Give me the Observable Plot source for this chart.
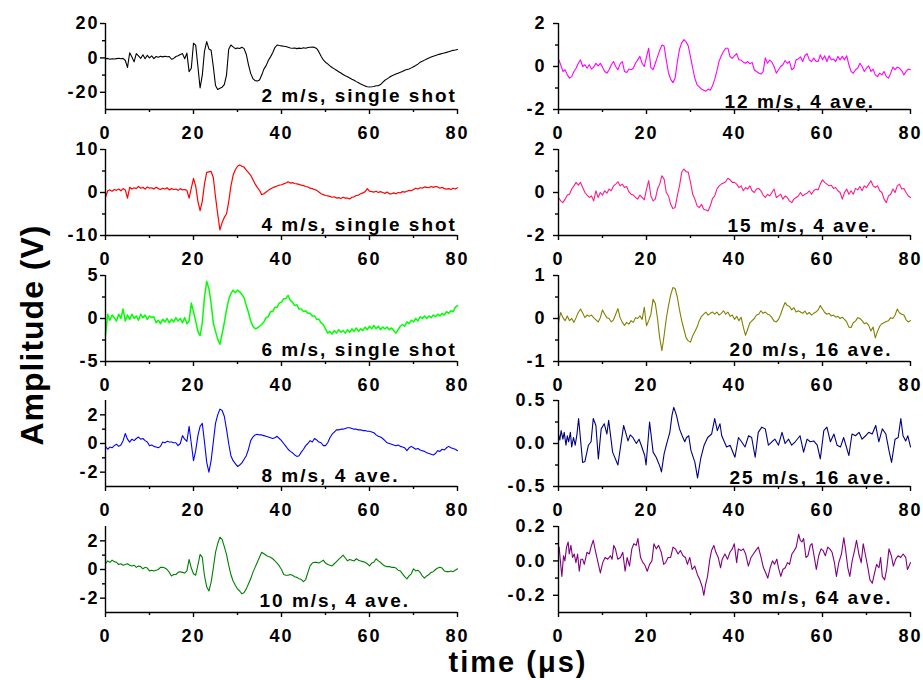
<!DOCTYPE html>
<html>
<head>
<meta charset="utf-8">
<script src="https://cdn.jsdelivr.net/npm/d3@7"></script>
<script src="https://cdn.jsdelivr.net/npm/@observablehq/plot@0.6"></script>
<style>
html,body{margin:0;padding:0;background:#fff;}
#wrap{position:relative;width:923px;height:680px;overflow:hidden;font-family:Arial,"Liberation Sans",Helvetica,sans-serif;color:#000;}
#wrap svg{position:absolute;overflow:visible;}
#wrap svg text{letter-spacing:2px;}
.ylab{position:absolute;left:32px;top:335px;transform:translate(-50%,-50%) rotate(-90deg);font-weight:bold;font-size:32px;line-height:1;white-space:nowrap;letter-spacing:1px;}
.xlab{position:absolute;left:518px;top:648px;transform:translateX(-50%);font-weight:bold;font-size:29px;line-height:1;white-space:nowrap;letter-spacing:2px;}
</style>
</head>
<body>
<div id="wrap">
  <div class="ylab">Amplitude (V)</div>
  <div class="xlab">time (μs)</div>
</div>
<script>
// ---- tick labels ----
const xMajor = [0, 20, 40, 60, 80];
const xMinor = [10, 30, 50, 70];
const yMajor2 = [20, 0, -20],  yMinor2 = [10, -10];
const yMajor4 = [10, 0, -10],  yMinor4 = [5, -5];
const yMajor6 = [5, 0, -5],    yMinor6 = [2.5, -2.5];
const yMajor8 = [2, 0, -2],    yMinor8 = [1, -1];
const yMajor10 = [2, 0, -2],   yMinor10 = [1, -1];
const yMajor12 = [2, 0, -2],   yMinor12 = [1, -1];
const yMajor15 = [2, 0, -2],   yMinor15 = [1, -1];
const yMajor20 = [1, 0, -1],   yMinor20 = [0.5, -0.5];
const yMajor25 = [0.5, 0, -0.5], yMinor25 = [0.25, -0.25];
const yMajor30 = [0.2, 0, -0.2], yMinor30 = [0.1, -0.1];

// ---- series values (V), sampled every 0.5 µs from 0 to 80 µs ----
const v2ms = [
-0.5,-0.3,-0.8,-0.5,-0.6,-0.4,-0.2,-0.5,-0.3,-1.5,
-5.5,3,0.5,-2.3,2.5,1.2,-0.3,1.8,-0.5,1.5,
0,1.2,-0.4,0.8,0.4,1,0.6,1,0.7,0.8,
-0.8,-0.3,0.8,1.2,2,2.5,-0.5,2.8,-8,-6,
8.5,7.4,-5,-17.5,-10,4,9.5,5.2,4.5,-5,
-16,-18.4,-17.6,-17,-15.5,-10,5,7.5,6.4,5.4,
5.8,5.5,6.2,5.4,2,-4,-9,-12,-13.2,-13.4,
-12.8,-10,-6.5,-4.5,-1.5,0.6,3,6,7.5,7.2,
7,6.8,6.6,6.2,5.8,5.6,5.8,5.4,5.7,5.5,
5.9,5.6,6,6.2,6.3,6.1,5.5,3.5,1,-1.2,
-2.5,-3.5,-4.6,-5.6,-6.4,-7.2,-8,-8.8,-9.6,-10.4,
-11,-11.7,-12.4,-13,-13.8,-14.5,-15.2,-15.8,-16.3,-16.8,
-16.9,-16.8,-16.6,-16.2,-16.2,-15.5,-14.2,-13,-12.2,-11.3,
-10.5,-10,-9.4,-8.9,-8.4,-7.9,-7.2,-6.8,-6.4,-5.8,
-5.1,-4.4,-3.6,-2.6,-2,-1.3,-0.6,0,0.5,1,
1.4,1.8,2.2,2.6,2.9,3.2,3.6,4,4.4,4.6,
4.9];
const v4ms = [
-1.1,0.4,0.6,0.3,0.7,0.5,0.8,0.4,0.9,0.6,
-1.3,1.2,0.8,1.1,0.9,1.4,1,1.2,0.8,1.3,
1,1.1,0.8,1.2,0.9,0.7,1,0.8,1.1,0.6,
0.9,0.7,0.8,0.5,0.9,0.6,0.7,0.5,-1.3,1,
3.3,1.5,-2,-4.2,-2,2,4.7,4.8,4.9,3.5,
-1,-5,-8.7,-7,-5.8,-5,-2.2,1.5,4,5.3,
6.1,6.4,6.1,5.9,5.2,4.6,4,3,2,1.2,
0.5,-0.5,-0.3,0.1,0.5,0.8,1.1,1.3,1.5,1.7,
1.8,2,2.2,2.5,2.2,2.3,2.1,2,1.9,1.7,
1.6,1.4,1.3,1,0.9,0.7,0.5,0.1,-0.3,-0.5,
-0.7,-0.8,-0.9,-1.1,-1,-1.3,-1.2,-1.4,-1.1,-1.3,
-1.3,-1.5,-1.1,-1,-0.7,-0.6,-0.3,-0.1,0.2,0.9,
0.3,0.2,0.1,0.3,0,0.2,0,-0.2,0.1,-0.3,
-0.3,-0.1,-0.3,0,-0.1,0.2,0.1,0.3,0.5,0.4,
0.7,1,0.8,1.1,1,1.3,1.2,1.1,1.4,1.2,
1.4,1.3,1,1.2,0.9,0.8,0.9,0.7,1,0.8,
1.1];
const v6ms = [
-1.9,0.5,-0.2,0.4,0.1,-0.3,0.5,0,1.1,-0.3,
0.4,-0.1,0.5,0,0.3,-0.2,0.5,0.1,0.4,-0.1,
0.3,0.1,0.2,-0.5,-0.2,-0.6,-0.1,-0.4,0,-0.5,
-0.1,-0.4,0.1,-0.3,0,-0.5,0.1,-0.6,-0.3,1.8,
0.8,-0.3,-1.5,-2,-0.5,2.5,4.3,3.5,1.8,-0.5,
-1.5,-2.4,-3,-1.8,-0.5,1,2.2,2.9,3.3,3,
3.3,3.1,2.8,2.4,1.5,0.7,-0.3,-0.9,-1.2,-1.1,
-0.9,-0.7,-0.4,0.1,0.2,0.8,0.8,1.3,1.3,1.8,
1.9,2.3,2.3,2.7,2.1,1.9,1.5,1.6,1.1,1.1,
0.8,0.9,0.6,0.6,0.3,0.3,-0.1,-0.1,-0.5,-0.7,
-1.2,-1.7,-1.5,-1.8,-1.4,-1.7,-1.3,-1.6,-1.4,-1.7,
-1.3,-1.6,-1.2,-1.5,-1.1,-1.5,-1.2,-1.4,-1,-1.3,
-0.9,-1.2,-0.8,-1.2,-0.9,-1.3,-1,-1.2,-1,-1.3,
-1.1,-1.4,-1.7,-1.3,-0.9,-0.7,-0.9,-0.4,-0.6,-0.2,
-0.4,0,-0.3,0.2,0,0.3,0,0.3,0.1,0.4,
0.2,0.5,0.3,0.6,0.4,0.8,0.6,0.9,0.8,1.3,
1.5];
const v8ms = [
-0.2,-0.4,-0.25,-0.3,-0.15,-0.05,-0.2,-0.1,0.2,0.7,
0.3,0.1,0.3,0.2,0.35,0.45,0.3,0.35,0.2,0.1,
-0.15,-0.1,-0.2,-0.25,-0.3,-0.2,0.1,0.05,0.15,0.1,
0.1,0.05,0.05,-0.15,0,0.55,0.3,0.15,1.2,0,
-1.2,-0.5,0.55,1.2,1.4,0.1,-1.3,-2,-1.2,0.1,
1.4,2,2.4,2.3,1.9,1,0,-0.85,-1.2,-1.4,
-1.6,-1.5,-1.35,-1.1,-0.85,-0.4,0.2,0.45,0.6,0.65,
0.6,0.6,0.55,0.5,0.45,0.4,0.35,0.4,0.5,0.35,
0.2,0,-0.2,-0.4,-0.55,-0.65,-0.8,-0.9,-0.85,-0.6,
-0.4,-0.15,0,0.2,0.1,0.35,0.25,0.1,0.05,-0.15,
-0.15,0.05,0.4,0.65,0.8,0.95,0.95,1,1,1.05,
1.1,1.1,1.05,1,1,0.95,0.95,0.9,0.9,0.85,
0.85,0.8,0.75,0.6,0.5,0.45,0.35,0.2,0.05,0,
-0.05,-0.1,-0.15,-0.1,-0.2,-0.25,-0.3,-0.5,-0.3,-0.2,
-0.3,-0.4,-0.35,-0.45,-0.5,-0.55,-0.65,-0.7,-0.75,-0.8,
-0.7,-0.5,-0.55,-0.4,-0.45,-0.3,-0.2,-0.3,-0.35,-0.4,
-0.5];
const v10ms = [
0.4,0.6,0.5,0.65,0.55,0.5,0.35,0.4,0.3,0.35,
0.4,0.3,0.25,0.3,0.15,0.25,0.2,0.05,0.15,0.1,
-0.1,-0.05,-0.1,-0.05,0,0.15,0.15,0.1,0,-0.2,
-0.45,-0.35,-0.35,-0.2,-0.15,-0.2,-0.25,-0.1,0.7,0.1,
-0.3,-0.4,0.3,1.05,0.85,-0.45,-1.2,-1.5,-0.9,0.1,
1.2,1.8,2.25,2.1,1.6,1.05,0.3,-0.35,-0.8,-1.1,
-1.35,-1.5,-1.7,-1.6,-1.35,-1,-0.65,-0.2,0.15,0.5,
0.85,1.2,1.1,1,0.9,0.85,0.75,0.6,0.45,0.25,
0,-0.35,-0.4,-0.4,-0.35,-0.4,-0.5,-0.55,-0.65,-0.7,
-0.85,-0.7,-0.2,0.25,0.45,0.5,0.5,0.45,0.55,0.65,
0.45,0.35,0.3,0.25,0.4,0.55,0.7,0.85,1,0.8,
0.6,0.7,0.65,0.6,0.75,0.65,0.6,0.55,0.5,0.4,
0.25,0.45,0.5,0.75,0.6,0.5,0.35,0.25,0.2,0.2,
0.15,0.15,0.1,-0.05,-0.1,-0.3,-0.5,-0.65,-0.45,-0.3,
0.05,-0.1,-0.05,-0.2,-0.45,-0.6,-0.45,-0.35,-0.2,-0.15,
0,0.1,0.15,0.1,-0.1,-0.15,-0.15,-0.1,-0.15,-0.05,
0.05];
const v12ms = [
0.35,0.08,-0.23,-0.15,-0.39,-0.54,-0.47,-0.23,-0.08,0.15,
0.31,0,0.08,-0.08,0.08,-0.12,-0.03,0.15,0.03,0.15,
-0.03,-0.23,-0.31,-0.15,0.08,0.23,0,-0.15,0.12,0.23,
-0.23,-0.28,-0.12,-0.15,-0.08,0.15,0.31,0.47,0.15,0,
0.45,0.85,-0.05,-0.15,0.15,0.45,0.75,1,0.95,0.3,
-0.3,-0.6,-0.75,-0.55,0.2,0.8,1.1,1.25,1.15,0.95,
0.45,-0.08,-0.55,-0.85,-0.95,-1.05,-1.1,-1.15,-1.05,-1.1,
-0.9,-0.6,-0.2,0.25,0.5,0.7,0.85,0.85,0.45,0.38,
0.5,0.6,0.31,0.3,0.2,0.15,0.23,0.12,0.19,-0.15,
-0.23,-0.3,-0.35,-0.25,0.4,0.15,0.3,0.2,0,-0.31,
-0.15,0,0.08,0.28,0.15,0.23,-0.15,-0.08,0.31,0.35,
0.45,0.23,0.5,0.6,0.31,0.23,0.39,0.25,0.23,0.54,
0.31,0.5,0.23,0.5,0.31,0.35,0.23,0.47,0.31,0.47,
0.31,0.5,0.08,-0.23,-0.31,-0.15,-0.08,0.15,0,-0.23,
-0.08,0.03,-0.23,-0.12,-0.39,-0.47,-0.31,-0.39,-0.23,-0.47,
-0.54,-0.31,-0.03,-0.15,-0.03,-0.08,-0.19,-0.39,-0.23,-0.12,
-0.15];
const v15ms = [
-0.23,-0.39,-0.47,-0.31,-0.12,-0.08,0.16,0.31,0.47,0.34,
0.47,0.23,0,-0.12,-0.23,-0.16,-0.39,0.08,-0.23,0,
-0.12,0.08,-0.03,0.16,0.08,0.31,0.39,0.5,0.31,0.39,
0.23,0.28,0.03,-0.08,-0.12,-0.23,-0.31,-0.12,-0.23,-0.34,
0.16,0.55,-0.16,-0.39,-0.31,0.16,0.39,0.78,0.62,0,
-0.16,-0.55,-0.75,-0.7,-0.16,0.31,0.94,1.09,0.97,0.94,
0.47,-0.08,-0.31,-0.62,-0.7,-0.55,-0.78,-0.81,-0.86,-0.62,
-0.28,-0.16,0.16,0.31,0.39,0.44,0.5,0.66,0.59,0.47,
0.47,0.39,0.23,0.31,0.08,0.23,0.16,0.31,0.08,0,
0.16,0.19,0.08,-0.12,-0.23,-0.08,-0.16,0,0.16,-0.23,
-0.16,-0.08,-0.31,-0.16,-0.23,-0.39,-0.47,-0.31,-0.23,-0.16,
0,-0.16,-0.08,-0.03,0.08,-0.08,0.08,0.16,0.12,0.39,
0.59,0.47,0.39,0.31,0.34,0.19,0.23,0.08,0,-0.31,
0,0.16,-0.08,0.08,-0.08,0.19,0.12,0.28,0.08,0.31,
0.23,0.39,0.55,0.31,0.23,0.31,0.08,0,-0.31,-0.47,
-0.16,-0.08,0.16,0,0.31,0.39,0.16,0.19,0,-0.16,
-0.23];
const v20ms = [
-0.09,0.14,0.02,-0.05,0.06,-0.05,0,-0.09,0.02,0.14,
0.22,0.13,0.02,0.08,0.05,0.08,0.02,-0.03,-0.08,0.02,
0.2,0.1,0.02,0,-0.08,-0.03,0.1,0.23,0.02,-0.09,
-0.16,-0.09,-0.13,-0.05,-0.09,0.02,0,0.06,-0.02,0.26,
-0.17,-0.05,0.1,0.45,0.35,0,-0.45,-0.75,-0.4,0,
0.3,0.55,0.72,0.7,0.5,0.2,-0.05,-0.25,-0.45,-0.52,
-0.55,-0.4,-0.3,-0.2,-0.05,0.05,0.1,0.15,0.08,0.12,
0.15,0.1,0.15,0.08,0.12,0.18,0.1,0.15,0.05,0.08,
-0.02,0.05,-0.05,0.03,-0.2,-0.39,-0.25,-0.1,-0.05,0,
0.08,0.1,0.18,0.12,0.15,0.1,0.08,0.02,-0.06,-0.08,
-0.02,0.1,0.25,0.37,0.3,0.28,0.2,0.25,0.15,0.18,
0.15,0.12,0.17,0.1,0.14,0.08,0.12,0.15,0.2,0.3,
0.22,0.14,0.1,0.12,0.06,0.08,0.03,0.05,0,0.03,
-0.02,-0.08,-0.2,-0.21,-0.1,-0.06,0.02,0,-0.05,-0.12,
-0.1,-0.16,-0.29,-0.2,-0.45,-0.3,-0.18,-0.12,-0.1,-0.07,
-0.05,0.02,0,0.08,0.22,0.13,0.1,0.08,-0.03,-0.08,
-0.05];
// irregularly read series: [time µs, amplitude V]
const p25ms = [
[0,0.11],[0.3,0.04],[0.6,0.15],[1,0.05],[1.3,0.13],[1.7,-0.02],[2,0.09],[2.3,0.02],[2.7,0.13],[3,-0.04],[3.4,0.07],[3.8,-0.02],[4.2,0.11],[4.57,0.29],[5.48,-0.22],[6,-0.21],[6.8,-0.02],[7.4,0.02],[7.9,0.29],[8.5,0.21],[9.06,-0.18],[9.7,0.17],[10.4,0.23],[11,0.11],[11.4,0.27],[12.3,-0.1],[13.5,-0.25],[14.8,0.21],[15.8,0.03],[16.3,0.1],[16.9,0.07],[17.7,0],[18.3,0.05],[18.8,-0.02],[19.6,-0.14],[19.9,-0.25],[20.7,0.25],[21.5,-0.1],[22.2,-0.16],[23,-0.26],[23.4,-0.33],[24,-0.12],[24.5,-0.02],[25.3,0.13],[25.8,0.33],[26.2,0.42],[26.8,0.33],[27.5,0.17],[28.1,0.09],[28.7,0.02],[29.1,0.07],[29.6,0.09],[30.1,-0.08],[31,-0.22],[31.6,-0.4],[32.3,-0.18],[33.1,-0.02],[33.9,0.07],[34.8,0.11],[35.5,0.29],[36.1,0.15],[36.7,0.23],[37.1,0.09],[38.2,-0.04],[39,-0.02],[40.1,-0.16],[40.9,0.07],[41.6,0.02],[42.4,-0.04],[43.2,0.09],[43.9,0.07],[44.7,-0.16],[45.4,0.13],[46.2,0.19],[47,0.17],[47.7,-0.02],[48.5,0.02],[49.2,0.05],[50,-0.02],[50.8,0.13],[51.5,0],[52.3,0.05],[53,-0.02],[53.8,0.02],[54.9,0.09],[55.7,-0.1],[56.5,0.05],[57.2,0.02],[58,0.03],[58.8,-0.02],[59.5,-0.18],[60.3,0.15],[61,0.19],[61.8,0.02],[62.6,0.11],[63.3,-0.02],[64.1,-0.04],[64.8,0.07],[66,-0.14],[66.7,0.11],[67.5,0.09],[68.3,0.13],[69,0.05],[69.8,0.09],[70.5,0.13],[71.3,0.11],[72.1,0.21],[72.8,0.02],[73.6,0.17],[74.4,0.11],[75.1,-0.08],[75.7,-0.22],[76.5,0.05],[77.2,0.07],[77.8,0.29],[78.3,0.09],[78.9,0.03],[79.4,0.09],[80,-0.04]
];
const p30ms = [
[0,0.05],[0.15,0.08],[0.53,-0.03],[0.76,-0.09],[1.14,0.03],[1.45,0],[1.83,0.08],[2.2,0.11],[2.44,0.04],[2.82,0.09],[3.2,0.02],[3.58,0.04],[3.96,-0.01],[4.34,0.04],[4.72,-0.06],[5.1,0.01],[5.48,0.01],[5.86,-0.02],[6.47,0.05],[7,0.04],[7.38,0.08],[7.91,0.12],[8.37,0.06],[8.9,0],[9.51,-0.07],[10.05,-0.01],[10.58,0.02],[11.19,0.01],[11.8,0.03],[12.18,0.01],[12.56,0.09],[12.94,0.07],[13.47,0.01],[14.08,0.02],[14.61,0.05],[15.14,-0.06],[15.6,0.02],[16.13,-0.03],[16.67,0.07],[17.12,0.1],[17.66,0.09],[18.04,0.13],[18.65,0.02],[19.18,-0.01],[19.56,-0.02],[20.17,-0.06],[20.7,-0.02],[21.23,0],[21.69,0.1],[22.22,0.07],[22.75,0.09],[23.36,0.05],[23.9,-0.02],[24.35,-0.01],[24.89,0.02],[25.49,0.02],[26.03,0.08],[26.56,0.07],[27.17,0.04],[27.7,0.06],[28.31,0.03],[28.84,0.02],[29.3,-0.02],[29.83,0.02],[30.37,-0.05],[30.97,-0.03],[31.58,-0.08],[32.12,-0.11],[32.65,-0.15],[33.03,-0.2],[33.41,-0.14],[33.87,-0.09],[34.4,0.01],[34.78,0.06],[35.31,0.09],[35.77,0.05],[36.3,0.02],[36.83,-0.04],[37.21,0.01],[37.82,0.04],[38.43,0.01],[38.96,0.05],[39.5,0.07],[39.95,0.1],[40.49,-0.01],[40.87,0.07],[41.48,0.06],[42.01,0.07],[42.54,0.04],[43.15,-0.03],[43.76,0.02],[44.29,0.04],[44.82,0.06],[45.43,0.08],[46.04,0.02],[46.58,-0.04],[47.11,-0.07],[47.56,-0.1],[48.1,-0.04],[48.63,0],[49.09,-0.02],[49.62,0.01],[50,-0.04],[50.53,-0.09],[50.99,-0.05],[51.52,-0.04],[52.05,-0.01],[52.51,-0.02],[53.04,0.04],[53.58,0.06],[54.03,0.08],[54.57,0.155],[54.95,0.12],[55.33,0.11],[55.71,0.13],[56.24,0.02],[56.7,0.03],[57.23,0.09],[57.61,0.1],[58.14,0.02],[58.6,-0.05],[59.13,0.03],[59.67,0.07],[60.12,0.06],[60.65,0.03],[61.19,0.08],[61.64,0.07],[62.18,0.05],[62.71,-0.01],[63.17,-0.09],[63.7,-0.01],[64.31,0.04],[64.84,0.135],[65.22,0.07],[65.75,-0.04],[66.21,-0.09],[66.74,0],[67.28,0.06],[67.73,0.12],[68.26,0.04],[68.8,-0.01],[69.25,0.1],[69.79,0.03],[70.32,-0.04],[70.78,-0.11],[71.31,-0.13],[71.84,-0.07],[72.3,-0.02],[72.83,-0.04],[73.21,0.02],[73.59,-0.09],[74.12,-0.11],[74.58,-0.05],[75.11,0.07],[75.65,0.03],[76.1,-0.03],[76.64,0.01],[77.17,0.03],[77.78,0.02],[78.31,0.04],[78.92,0.02],[79.3,-0.05],[79.68,-0.03],[80,-0.01]
];

// ---- layout (styling only) ----
const PW = 352, PH = 86;
const colLeft = [105, 557.7];
const rowTop = [23.3, 149, 274.6, 400, 525.7];
const ML = 70, MR = 26, MT = 14, MB = 42;
const intFmt = d => String(d);
const decFmt = d => d.toFixed(1);

const gridRows = vals => vals.map((v, i) => ({t: i * 0.5, v}));
const pairRows = pairs => pairs.map(([t, v]) => ({t, v}));

const panels = [
  {label: "2 m/s, single shot", data: gridRows(v2ms), color: "#000000", sw: 1.1, dom: [-30, 20], major: yMajor2, minor: yMinor2, fmt: intFmt, col: 0, row: 0, lx: 156, ly: 7.5},
  {label: "4 m/s, single shot", data: gridRows(v4ms), color: "#ff0000", sw: 1.2, dom: [-10, 10], major: yMajor4, minor: yMinor4, fmt: intFmt, col: 0, row: 1, lx: 156, ly: 5},
  {label: "6 m/s, single shot", data: gridRows(v6ms), color: "#00ff00", sw: 1.5, dom: [-5, 5], major: yMajor6, minor: yMinor6, fmt: intFmt, col: 0, row: 2, lx: 156, ly: 6},
  {label: "8 m/s, 4 ave.", data: gridRows(v8ms), color: "#0000ff", sw: 1.1, dom: [-3, 3], major: yMajor8, minor: yMinor8, fmt: intFmt, col: 0, row: 3, lx: 156, ly: 5},
  {label: "10 m/s, 4 ave.", data: gridRows(v10ms), color: "#008000", sw: 1.1, dom: [-3, 3], major: yMajor10, minor: yMinor10, fmt: intFmt, col: 0, row: 4, lx: 154, ly: 5.7},
  {label: "12 m/s, 4 ave.", data: gridRows(v12ms), color: "#ff00ff", sw: 1.1, dom: [-2, 2], major: yMajor12, minor: yMinor12, fmt: intFmt, col: 1, row: 0, lx: 166, ly: 2},
  {label: "15 m/s, 4 ave.", data: gridRows(v15ms), color: "#ff1a8c", sw: 1.1, dom: [-2, 2], major: yMajor15, minor: yMinor15, fmt: intFmt, col: 1, row: 1, lx: 169, ly: 3.3},
  {label: "20 m/s, 16 ave.", data: gridRows(v20ms), color: "#808000", sw: 1.1, dom: [-1, 1], major: yMajor20, minor: yMinor20, fmt: intFmt, col: 1, row: 2, lx: 171, ly: 6},
  {label: "25 m/s, 16 ave.", data: pairRows(p25ms), color: "#000080", sw: 1.1, dom: [-0.5, 0.5], major: yMajor25, minor: yMinor25, fmt: decFmt, col: 1, row: 3, lx: 171, ly: 2.7},
  {label: "30 m/s, 64 ave.", data: pairRows(p30ms), color: "#800080", sw: 1.1, dom: [-0.3, 0.2], major: yMajor30, minor: yMinor30, fmt: decFmt, col: 1, row: 4, lx: 171, ly: 8.4}
];

const wrap = document.getElementById("wrap");
for (const p of panels) {
  const ypad = p.col === 0 ? 1 : 7;
  const svg = Plot.plot({
    width: ML + PW + MR,
    height: MT + PH + MB,
    marginLeft: ML, marginRight: MR, marginTop: MT, marginBottom: MB,
    style: {fontFamily: "Arial, 'Liberation Sans', Helvetica, sans-serif", fontSize: "18px", fontWeight: "bold", color: "#000", background: "transparent", overflow: "visible"},
    x: {domain: [0, 80], axis: null, label: null},
    y: {domain: p.dom, axis: null, label: null},
    marks: [
      Plot.line(p.data, {x: "t", y: "v", stroke: p.color, strokeWidth: p.sw}),
      Plot.ruleX([0], {stroke: "#000", strokeWidth: 1.4}),
      Plot.ruleY([p.dom[0]], {stroke: "#000", strokeWidth: 1.4}),
      Plot.axisX({ticks: xMajor, tickSize: 5, tickPadding: 12, tickFormat: intFmt, strokeWidth: 1.4, label: null}),
      Plot.axisX({ticks: xMinor, tickSize: 3, tickFormat: () => "", strokeWidth: 1.4, label: null}),
      Plot.axisY({ticks: p.major, tickSize: 5, tickPadding: ypad, tickFormat: p.fmt, strokeWidth: 1.4, label: null}),
      Plot.axisY({ticks: p.minor, tickSize: 3, tickFormat: () => "", strokeWidth: 1.4, label: null}),
      Plot.text([p.label], {text: d => d, frameAnchor: "bottom-left", textAnchor: "start", lineAnchor: "bottom", dx: p.lx, dy: -p.ly, fontSize: 19, fontWeight: "bold", fill: "#000"})
    ]
  });
  svg.style.left = (colLeft[p.col] - ML) + "px";
  svg.style.top = (rowTop[p.row] - MT) + "px";
  wrap.appendChild(svg);
}
</script>
</body>
</html>
